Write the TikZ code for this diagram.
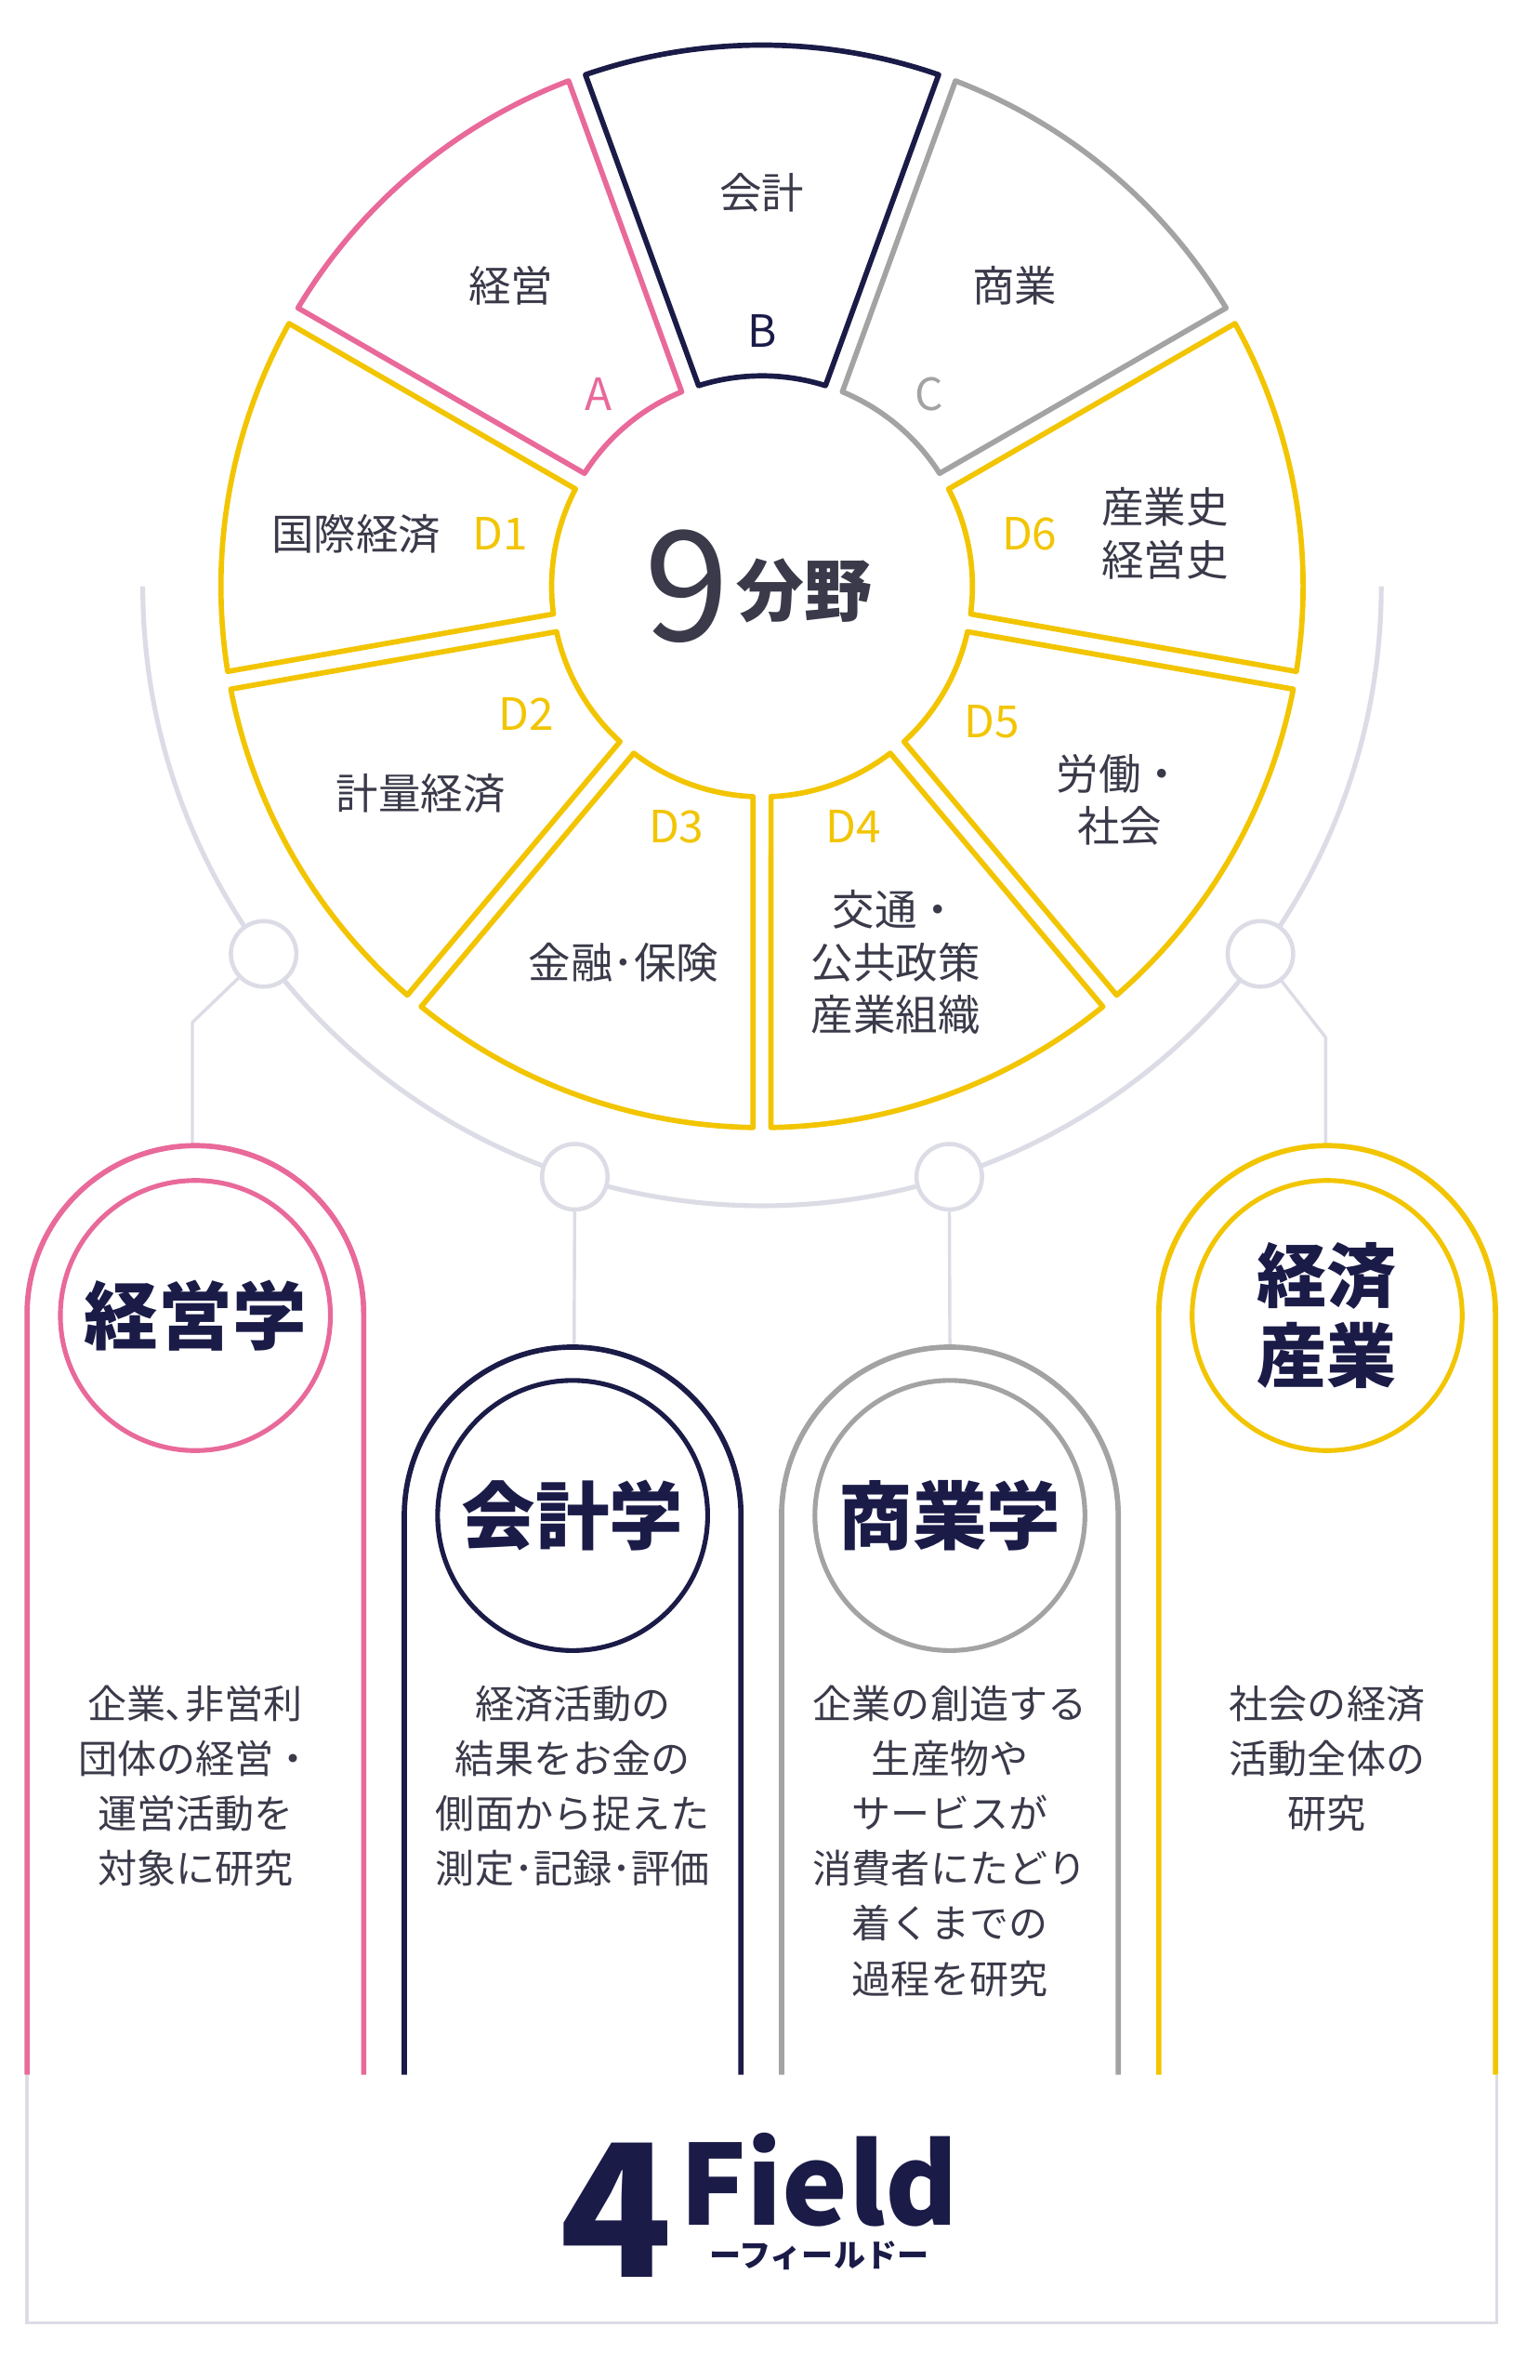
\documentclass[tikz,border=0pt]{standalone}
\usepackage{fontspec}
\setmainfont{Noto Sans CJK JP}
\usetikzlibrary{calc}
\definecolor{cA}{HTML}{E8699A}
\definecolor{cB}{HTML}{1B1B48}
\definecolor{cC}{HTML}{A3A3A3}
\definecolor{cD}{HTML}{F2C500}
\definecolor{lg}{HTML}{DCDCE6}
\definecolor{tx}{HTML}{3A3A4A}
\newcommand\segm[3]{\draw[#1,line width=5pt,line join=round] ({#2+2.45}:140) -- ({#2+0.95}:360) arc[start angle=#2+0.95, end angle=#3-0.95, radius=360] -- ({#3-2.45}:140) arc[start angle=#3-2.45,end angle=#2+2.45,radius=140] -- cycle;}
\tikzset{
 lbl/.style={font=\fontsize{40}{50}\selectfont,text=tx,align=center,inner sep=0},
 let/.style={font=\fontsize{42}{50}\selectfont,inner sep=0},
 desc/.style={font=\fontsize{37}{52}\selectfont,text=tx,align=center,inner sep=0},
 ttl/.style={font=\fontsize{70}{72}\selectfont\bfseries,text=cB,align=center,inner sep=0},
 knob/.style={circle,draw=lg,fill=white,line width=4pt,minimum size=62pt,inner sep=0},
 lgl/.style={lg,line width=3pt},
 arch/.style={line width=5pt}
}
\begin{document}
\begin{tikzpicture}[x=0.05cm,y=0.05cm]
\useasboundingbox[fill=white] (0,0) rectangle (1024,1583);
% outer arc
\draw[lg,line width=4.5pt] (95,1193) arc[start angle=180,end angle=360,radius=412];
\begin{scope}[shift={(507,1193)}]
\segm{cA}{110}{150}
\segm{cB}{70}{110}
\segm{cC}{30}{70}
\segm{cD}{150}{190}
\segm{cD}{190}{230}
\segm{cD}{230}{270}
\segm{cD}{270}{310}
\segm{cD}{310}{350}
\segm{cD}{-10}{30}
\node[knob] (k1) at (-143.6:412) {};
\node[knob] (k2) at (-107.6:412) {};
\node[knob] (k3) at (-72.4:412) {};
\node[knob] (k4) at (-36.4:412) {};
\end{scope}
% hub
\node[inner sep=0,text=tx,font=\fontsize{145}{145}\selectfont] (nine) at (457,1193) {9};
\node[inner sep=0,text=tx,font=\fontsize{64}{64}\selectfont\bfseries] (bunya) at (535,1190) {分野};
% labels
\node[lbl] (la) at (340,1393) {経営};
\node[let,text=cA] (A) at (398,1321) {A};
\node[lbl] (lb) at (507,1455) {会計};
\node[let,text=cB] (B) at (507,1363) {B};
\node[lbl] (lc) at (675,1393) {商業};
\node[let,text=cC] (Cc) at (618,1321) {C};
\node[lbl] (l1) at (237,1228) {国際経済};
\node[let,text=cD] (D1) at (333,1228) {D1};
\node[let,text=cD] (D6) at (685,1228) {D6};
\node[lbl] (l6) at (775,1228) {産業史\\経営史};
\node[let,text=cD] (D2) at (350,1108) {D2};
\node[lbl] (l2) at (280,1055) {計量経済};
\node[let,text=cD] (D3) at (450,1033) {D3};
\node[lbl] (l3) at (415,943) {金融･保険};
\node[let,text=cD] (D4) at (568,1033) {D4};
\node[lbl] (l4) at (596,943) {交通・\\公共政策\\産業組織};
\node[let,text=cD] (D5) at (660,1103) {D5};
\node[lbl] (l5) at (745,1051) {労働・\\社会};
% connectors
\coordinate (p1) at (128,903); \coordinate (p4) at (882,893);
\draw[lgl] (k1) -- (p1) -- (128,821);
\draw[lgl] (k4) -- (p4) -- (882,821);
\draw[lgl] (k2) -- (382,688);
\draw[lgl] (k3) -- (632,688);
% bottom box
\draw[lgl] (18,203) -- (18,38) -- (996,38) -- (996,203);
% arches
\draw[arch,cA] (18,203) -- (18,709) arc[start angle=180,end angle=0,radius=112] -- (242,203);
\draw[arch,cB] (269,203) -- (269,575) arc[start angle=180,end angle=0,radius=112] -- (493,203);
\draw[arch,cC] (520,203) -- (520,575) arc[start angle=180,end angle=0,radius=112] -- (744,203);
\draw[arch,cD] (771,203) -- (771,709) arc[start angle=180,end angle=0,radius=112] -- (995,203);
\node[circle,draw=cA,line width=4.5pt,minimum size=180*1.42pt] (c1) at (130,708) {};
\node[circle,draw=cB,line width=4.5pt,minimum size=180*1.42pt] (c2) at (381,575) {};
\node[circle,draw=cC,line width=4.5pt,minimum size=180*1.42pt] (c3) at (632,575) {};
\node[circle,draw=cD,line width=4.5pt,minimum size=180*1.42pt] (c4) at (883,708) {};
\node[ttl] (t1) at (c1) {経営学};
\node[ttl] (t2) at (c2) {会計学};
\node[ttl] (t3) at (c3) {商業学};
\node[ttl,font=\fontsize{66}{76}\selectfont\bfseries] (t4) at (c4) {経済\\産業};
% descriptions
\node[desc,anchor=north] (d1) at (130,462) {企業､非営利\\団体の経営・\\運営活動を\\対象に研究};
\node[desc,anchor=north] (d2) at (381,462) {経済活動の\\結果をお金の\\側面から捉えた\\測定･記録･評価};
\node[desc,anchor=north] (d3) at (632,462) {企業の創造する\\生産物や\\サービスが\\消費者にたどり\\着くまでの\\過程を研究};
\node[desc,anchor=north] (d4) at (883,462) {社会の経済\\活動全体の\\研究};
% 4 Field
\node[inner sep=0,text=cB,font=\fontsize{175}{175}\selectfont\bfseries] (four) at (410,113) {4};
\node[inner sep=0,text=cB,font=\fontsize{105}{105}\selectfont\bfseries] (field) at (545,133) {Field};
\node[inner sep=0,text=cB,font=\fontsize{30}{30}\selectfont\bfseries] (sub) at (545,83) {ーフィールドー};
\end{tikzpicture}
\end{document}
